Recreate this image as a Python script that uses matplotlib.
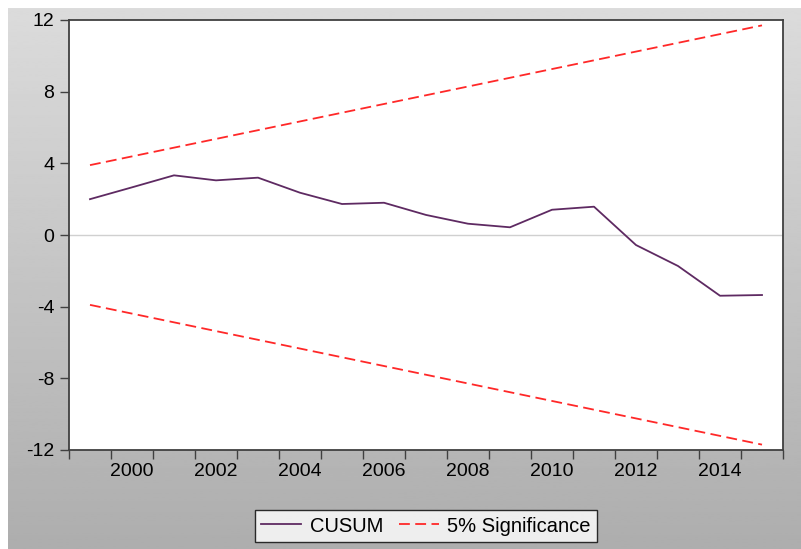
import numpy as np
import matplotlib.pyplot as plt

plt.rcParams['font.family'] = ['Liberation Sans', 'DejaVu Sans']

years = np.arange(1999, 2016)
cusum = [2.0, 2.66, 3.33, 3.05, 3.2, 2.36, 1.73, 1.8, 1.12, 0.63, 0.43,
         1.41, 1.58, -0.56, -1.73, -3.39, -3.35]
band_years = [1999, 2015]
upper = [3.9, 11.7]
lower = [-3.9, -11.7]
tick_labels = ['2000', '2002', '2004', '2006', '2008', '2010', '2012', '2014']

W, H = 801, 549
fig = plt.figure(figsize=(W / 100, H / 100), dpi=100, facecolor='white')

# grey gradient panel behind everything
bg = fig.add_axes([8 / W, 0, 1 - 8 / W, 1 - 8 / H])
grad = np.linspace(0.86, 0.68, 256).reshape(-1, 1)
bg.imshow(grad, aspect='auto', cmap='gray', vmin=0, vmax=1, extent=[0, 1, 0, 1])
bg.axis('off')

ax = fig.add_axes([69 / W, 1 - 450 / H, (783 - 69) / W, (450 - 20) / H])
ax.set_facecolor('white')

# points sit in the middle of each year
ax.axhline(0, color='#d0d0d0', lw=1, zorder=1)
ax.plot(years + 0.5, cusum, color='#5e2a62', lw=1.3, label='CUSUM', zorder=3)
ax.plot(np.array(band_years) + 0.5, upper, color='#ff2828', lw=1.3,
        dashes=(6, 3), label='5% Significance', zorder=2)
ax.plot(np.array(band_years) + 0.5, lower, color='#ff2828', lw=1.3,
        dashes=(6, 3), zorder=2)

ax.set_xlim(1999, 2016)
ax.set_ylim(-12, 12)
ax.set_yticks([-12, -8, -4, 0, 4, 8, 12])
ax.set_yticklabels(['-12', '-8', '-4', '0', '4', '8', '12'])
ax.set_xticks(np.arange(1999, 2017))
ax.set_xticklabels([])
ax.set_xticks([int(t) + 0.5 for t in tick_labels], minor=True)
ax.set_xticklabels(tick_labels, minor=True)
ax.tick_params(axis='x', which='minor', length=0, pad=9, labelsize=14)
ax.tick_params(axis='x', which='major', direction='out', length=6.5, width=1,
               color='#404040')
ax.tick_params(axis='y', direction='out', length=6.5, width=1, color='#404040',
               pad=4, labelsize=14)
for s in ax.spines.values():
    s.set_color('#404040')
    s.set_linewidth(1.3)

leg = fig.legend(loc='center', bbox_to_anchor=(426 / W, 1 - 526 / H), ncol=2,
                 fontsize=14.5, frameon=True, fancybox=False, borderpad=0.3,
                 handlelength=2.0, columnspacing=0.8, handletextpad=0.4)
leg.get_frame().set_edgecolor('black')
leg.get_frame().set_linewidth(1)

fig.savefig('out.png', dpi=100, facecolor='white')
